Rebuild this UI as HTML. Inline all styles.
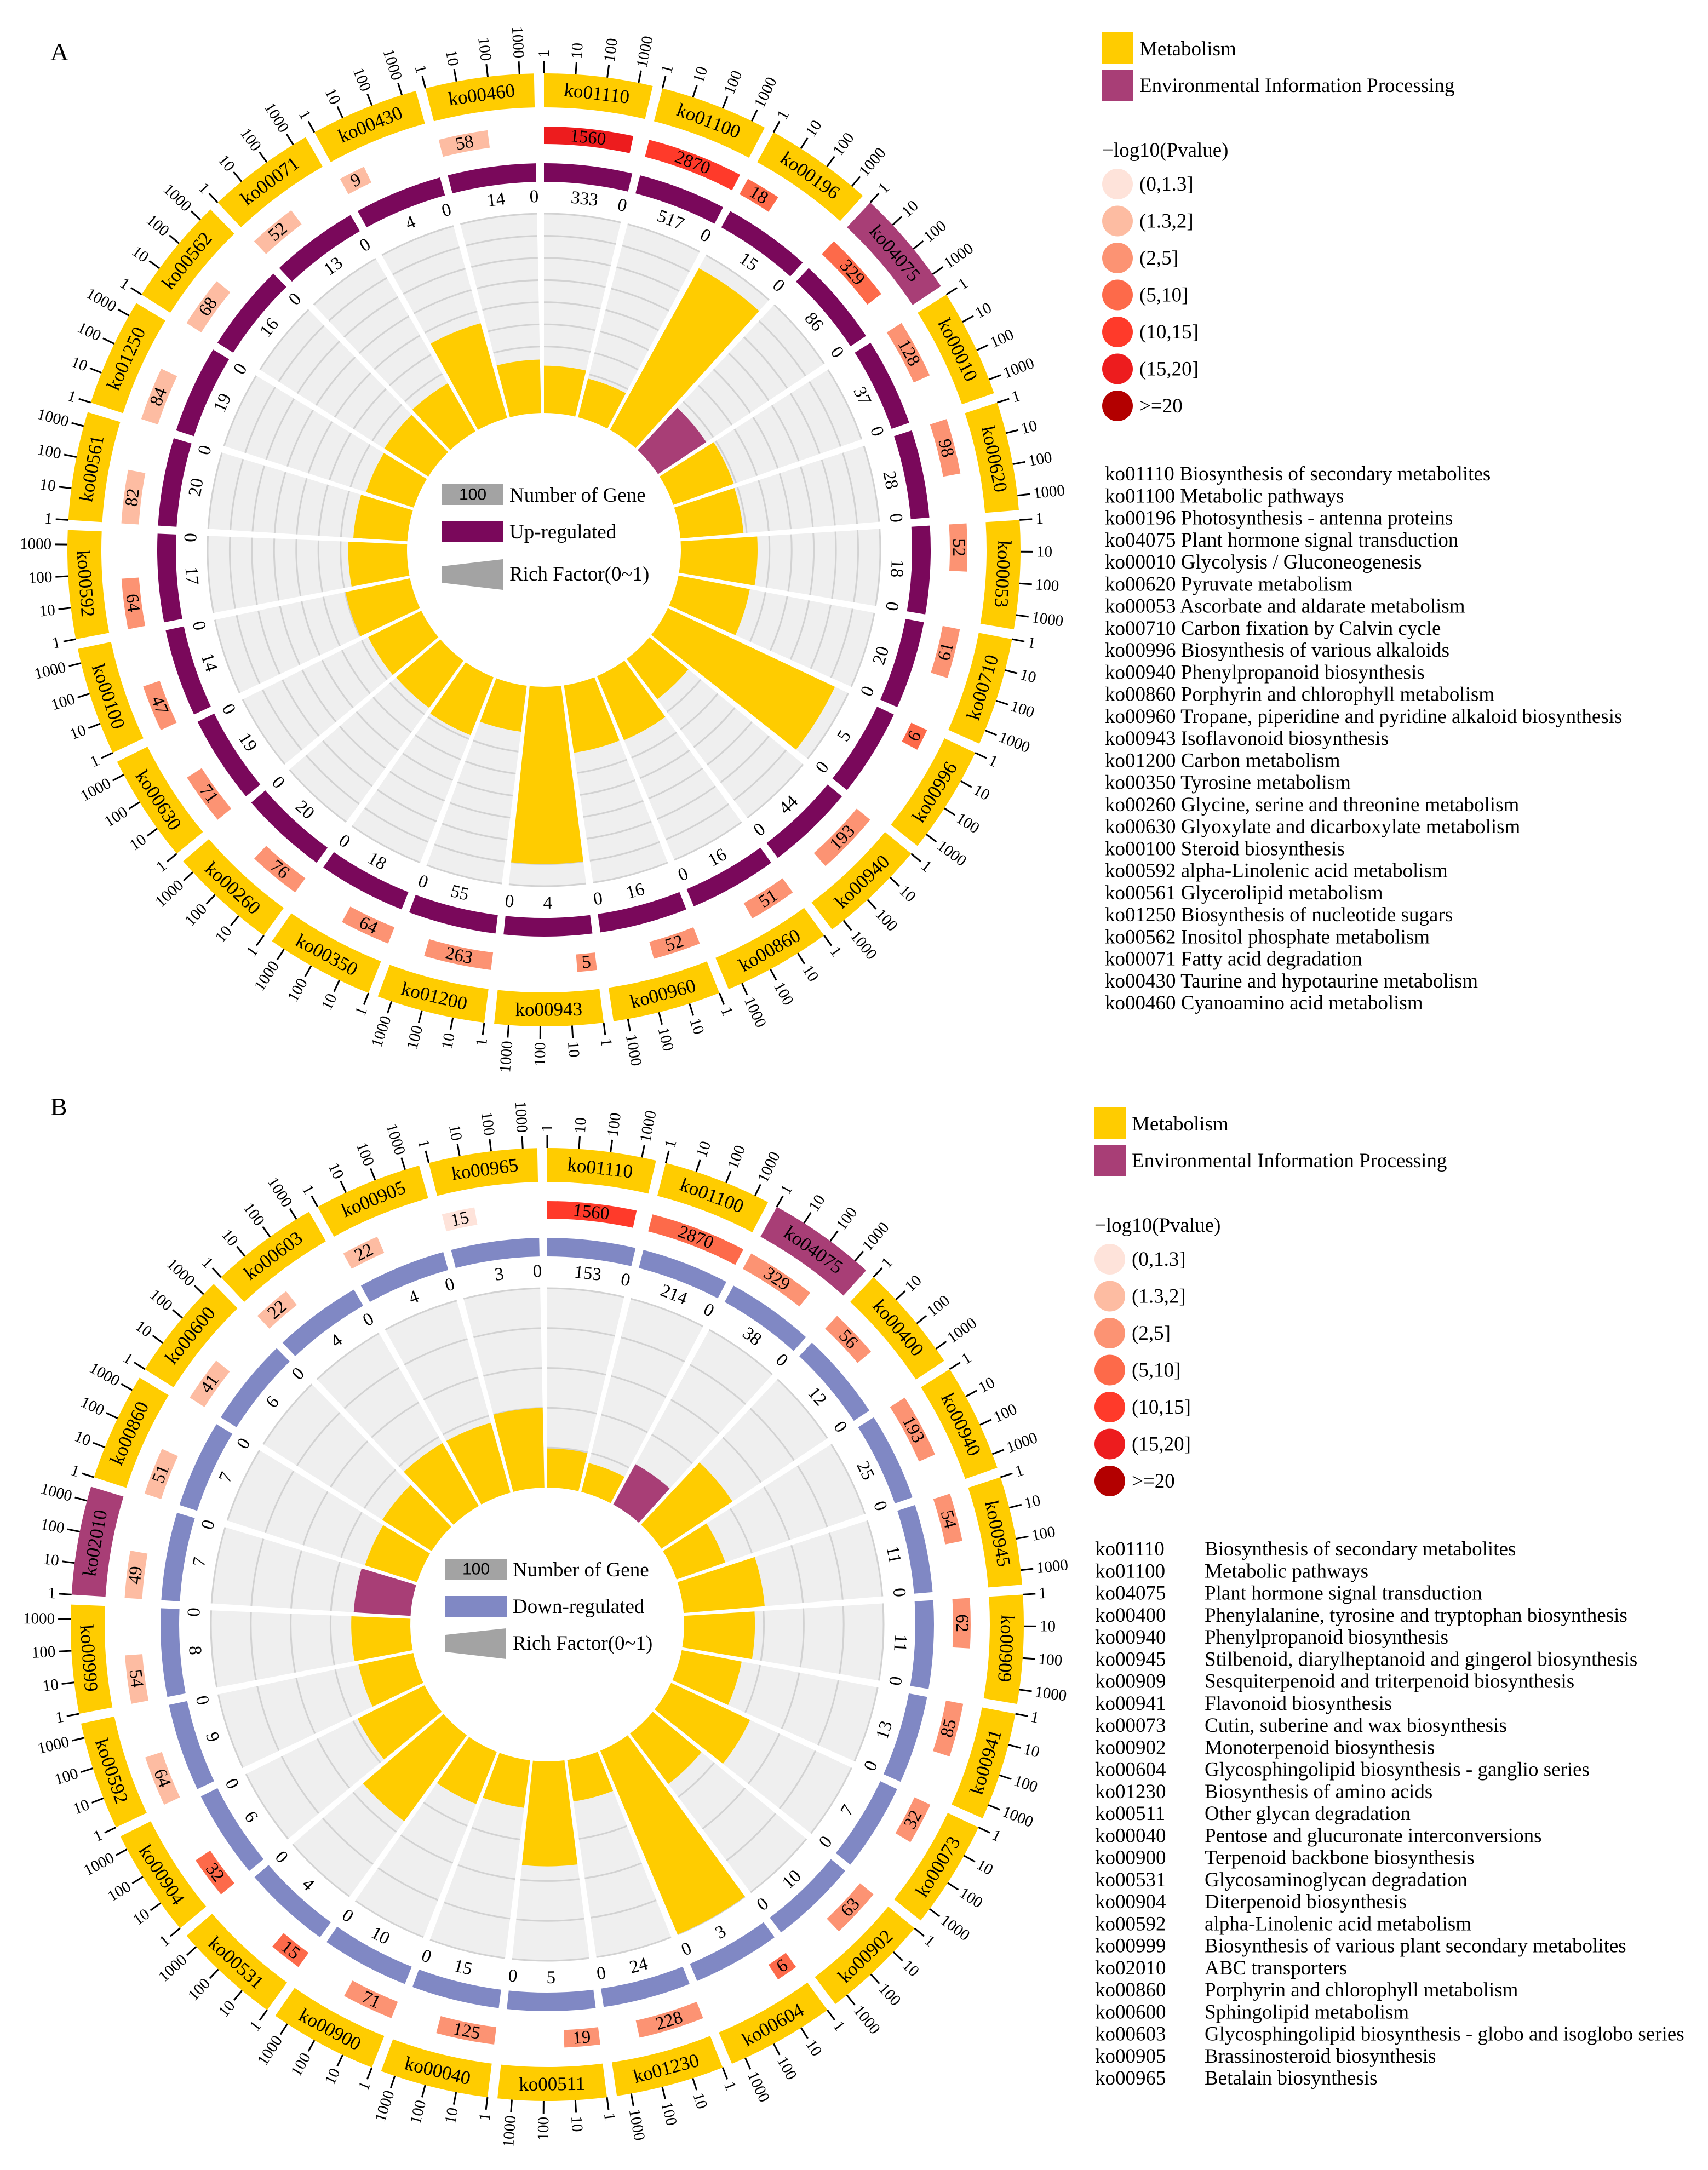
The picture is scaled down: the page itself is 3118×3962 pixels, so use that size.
<!DOCTYPE html>
<html><head><meta charset="utf-8">
<style>
html,body{margin:0;padding:0;background:#fff;}
svg{display:block;}
text{font-family:"Liberation Serif",serif;fill:#000;}
</style></head>
<body>
<svg id="root" width="3118" height="3962" viewBox="0 0 3118 3962" xmlns="http://www.w3.org/2000/svg">
<rect x="0" y="0" width="3118" height="3962" fill="#fff"/>
</svg>
<script>
// ---------- data: panel A ----------
const codesA = ["ko01110","ko01100","ko00196","ko04075","ko00010","ko00620","ko00053","ko00710","ko00996","ko00940","ko00860","ko00960","ko00943","ko01200","ko00350","ko00260","ko00630","ko00100","ko00592","ko00561","ko01250","ko00562","ko00071","ko00430","ko00460"];
const countsA = [1560,2870,18,329,128,98,52,61,6,193,51,52,5,263,64,76,71,47,64,82,84,68,52,9,58];
const upA = [333,517,15,86,37,28,18,20,5,44,16,16,4,55,18,20,19,14,17,20,19,16,13,4,14];
const pClassA = [5,4,3,3,2,2,2,2,3,2,2,2,2,2,2,2,2,2,2,1,1,1,1,1,1];
const catA = ["M","M","M","E","M","M","M","M","M","M","M","M","M","M","M","M","M","M","M","M","M","M","M","M","M"];
const namesA = ["Biosynthesis of secondary metabolites","Metabolic pathways","Photosynthesis - antenna proteins","Plant hormone signal transduction","Glycolysis / Gluconeogenesis","Pyruvate metabolism","Ascorbate and aldarate metabolism","Carbon fixation by Calvin cycle","Biosynthesis of various alkaloids","Phenylpropanoid biosynthesis","Porphyrin and chlorophyll metabolism","Tropane, piperidine and pyridine alkaloid biosynthesis","Isoflavonoid biosynthesis","Carbon metabolism","Tyrosine metabolism","Glycine, serine and threonine metabolism","Glyoxylate and dicarboxylate metabolism","Steroid biosynthesis","alpha-Linolenic acid metabolism","Glycerolipid metabolism","Biosynthesis of nucleotide sugars","Inositol phosphate metabolism","Fatty acid degradation","Taurine and hypotaurine metabolism","Cyanoamino acid metabolism"];
// ---------- data: panel B ----------
const codesB = ["ko01110","ko01100","ko04075","ko00400","ko00940","ko00945","ko00909","ko00941","ko00073","ko00902","ko00604","ko01230","ko00511","ko00040","ko00900","ko00531","ko00904","ko00592","ko00999","ko02010","ko00860","ko00600","ko00603","ko00905","ko00965"];
const countsB = [1560,2870,329,56,193,54,62,85,32,63,6,228,19,125,71,15,32,64,54,49,51,41,22,22,15];
const downB = [153,214,38,12,25,11,11,13,7,10,3,24,5,15,10,4,6,9,8,7,7,6,4,4,3];
const pClassB = [4,3,2,2,2,2,2,2,2,2,3,2,2,2,2,3,3,1,1,1,1,1,1,1,0];
const catB = ["M","M","E","M","M","M","M","M","M","M","M","M","M","M","M","M","M","M","M","E","M","M","M","M","M"];
const namesB = ["Biosynthesis of secondary metabolites","Metabolic pathways","Plant hormone signal transduction","Phenylalanine, tyrosine and tryptophan biosynthesis","Phenylpropanoid biosynthesis","Stilbenoid, diarylheptanoid and gingerol biosynthesis","Sesquiterpenoid and triterpenoid biosynthesis","Flavonoid biosynthesis","Cutin, suberine and wax biosynthesis","Monoterpenoid biosynthesis","Glycosphingolipid biosynthesis - ganglio series","Biosynthesis of amino acids","Other glycan degradation","Pentose and glucuronate interconversions","Terpenoid backbone biosynthesis","Glycosaminoglycan degradation","Diterpenoid biosynthesis","alpha-Linolenic acid metabolism","Biosynthesis of various plant secondary metabolites","ABC transporters","Porphyrin and chlorophyll metabolism","Sphingolipid metabolism","Glycosphingolipid biosynthesis - globo and isoglobo series","Brassinosteroid biosynthesis","Betalain biosynthesis"];
const tickValues = [1,10,100,1000];
const pLabels = ["(0,1.3]","(1.3,2]","(2,5]","(5,10]","(10,15]","(15,20]",">=20"];
const pColors = ["#FEE3DA","#FDBCA2","#FC9373","#FD6A4A","#FF3A2A","#ED1C1E","#B30000"];
const catColors = {M:"#FFCC00",E:"#A83E76"};

const NS = "http://www.w3.org/2000/svg";
const root = document.getElementById("root");
function mk(tag, attrs, parent){
  const e = document.createElementNS(NS, tag);
  for (const k in attrs) e.setAttribute(k, attrs[k]);
  (parent||root).appendChild(e);
  return e;
}
function pt(cx,cy,r,a){const t=a*Math.PI/180;return [cx+r*Math.sin(t), cy-r*Math.cos(t)];}
function sectorPath(cx,cy,r0,r1,a0,a1){
  const p1=pt(cx,cy,r1,a0),p2=pt(cx,cy,r1,a1),p3=pt(cx,cy,r0,a1),p4=pt(cx,cy,r0,a0);
  const lg=(a1-a0)>180?1:0;
  return `M${p1[0]},${p1[1]} A${r1},${r1} 0 ${lg} 1 ${p2[0]},${p2[1]} L${p3[0]},${p3[1]} A${r0},${r0} 0 ${lg} 0 ${p4[0]},${p4[1]} Z`;
}
function arcPath(cx,cy,r,a0,a1){
  const p1=pt(cx,cy,r,a0),p2=pt(cx,cy,r,a1);
  return `M${p1[0]},${p1[1]} A${r},${r} 0 0 1 ${p2[0]},${p2[1]}`;
}
function tanText(g,cx,cy,r,a,str,size){
  const p=pt(cx,cy,r,a);
  const flip = a>95 && a<270;
  const rot = flip ? a+180 : a;
  const t = mk("text",{transform:`translate(${p[0]},${p[1]}) rotate(${rot})`,"text-anchor":"middle","dominant-baseline":"central","font-size":size},g);
  t.textContent=str;
  return t;
}

function drawChart(cfg){
  const {cx,cy,codes,counts,reg,pcls,cat,rfMax,nGrid,regColor,key} = cfg;
  const n = codes.length, step = 360/n, w = step-1.2;
  const logMax = Math.log10(Math.max(...counts));
  const g = mk("g",{});
  
  
  const R0=250, R1=614;
  for(let i=0;i<n;i++){
    const a0=i*step, a1=a0+w, am=(a0+a1)/2;
    const sg = mk("g",{},g);
    
    
    const bg = mk("path",{d:sectorPath(cx,cy,R0,R1,a0,a1),fill:"#EFEFEF"},sg);
    
    
    for(let k=1;k<=nGrid;k++){
      const gl = mk("path",{d:arcPath(cx,cy,R0+k*(R1-R0)/nGrid,a0,a1),fill:"none",stroke:"#D2D2D2","stroke-width":3},sg);
      
      
    }
    const rf = reg[i]/counts[i];
    const bar = mk("path",{d:sectorPath(cx,cy,R0,R0+(R1-R0)*Math.min(rf/rfMax,1),a0,a1),fill:catColors[cat[i]]},sg);
    
    
    const rg = mk("path",{d:sectorPath(cx,cy,672,706,a0,a1),fill:regColor},sg);
    
    
    const cl = tanText(sg,cx,cy,645,am,String(reg[i]),33);
    
    
    const zl = tanText(sg,cx,cy,645,a1-0.4,"0",33);
    
    
    const pa1 = a0 + w*Math.log10(counts[i])/logMax;
    const pb = mk("path",{d:sectorPath(cx,cy,741,773,a0,pa1),fill:pColors[pcls[i]]},sg);
    
    
    const pl = tanText(sg,cx,cy,757,(a0+pa1)/2,String(counts[i]),33);
    
    
    const orr = mk("path",{d:sectorPath(cx,cy,808,870,a0,a1),fill:catColors[cat[i]]},sg);
    
    
    const ol = tanText(sg,cx,cy,839,am,codes[i],35);
    
    
    for(const tv of tickValues){
      const ta = a0 + w*Math.log10(tv)/logMax;
      const p1=pt(cx,cy,870,ta), p2=pt(cx,cy,893,ta);
      const tk = mk("line",{x1:p1[0],y1:p1[1],x2:p2[0],y2:p2[1],stroke:"#000","stroke-width":3},sg);
      
      
      const lp = pt(cx,cy,899,ta);
      const left = ta>=180;
      const tl = mk("text",{transform:`translate(${lp[0]},${lp[1]}) rotate(${left?ta+90:ta-90})`,"text-anchor":left?"end":"start","dominant-baseline":"central","font-size":29},sg);
      tl.textContent = String(tv);
      
      
    }
  }
  const lg = mk("g",{},g);
  
  
  mk("rect",{x:cx-186,y:cy-120,width:112,height:38,fill:"#A3A3A3"},lg);
  const hundred = mk("text",{x:cx-130,y:cy-101,"text-anchor":"middle","dominant-baseline":"central","font-size":30,style:"font-family:'Liberation Sans',sans-serif"},lg);
  hundred.textContent="100";
  mk("rect",{x:cx-186,y:cy-52,width:112,height:38,fill:regColor},lg);
  const t = cfg.trap;
  mk("polygon",{points:`${cx-186},${cy+t[0]} ${cx-75},${cy+t[1]} ${cx-75},${cy+t[2]} ${cx-186},${cy+t[3]}`,fill:"#A3A3A3"},lg);
  const l1=mk("text",{x:cx-63,y:cy-88,"font-size":37},lg); l1.textContent="Number of Gene";
  const l2=mk("text",{x:cx-63,y:cy-21,"font-size":37},lg); l2.textContent=cfg.regLabel;
  const l3=mk("text",{x:cx-63,y:cy+cfg.rfBase,"font-size":37},lg); l3.textContent="Rich Factor(0~1)";
}

function drawSideLegend(x,y0,key,codes,names,twoCol){
  const g = mk("g",{});
  
  
  const r1=mk("rect",{x:x,y:y0,width:57,height:57,fill:catColors.M},g);
  
  
  const t1=mk("text",{x:x+68,y:y0+42,"font-size":37},g); t1.textContent="Metabolism";
  const r2=mk("rect",{x:x,y:y0+68,width:57,height:57,fill:catColors.E},g);
  
  
  const t2=mk("text",{x:x+68,y:y0+109,"font-size":37},g); t2.textContent="Environmental Information Processing";
  const pt0=mk("text",{x:x,y:y0+227,"font-size":37},g); pt0.textContent="\u2212log10(Pvalue)";
  for(let i=0;i<pLabels.length;i++){
    const cy = y0+277+i*67.5;
    const c=mk("circle",{cx:x+28,cy:cy,r:28,fill:pColors[i]},g);
    
    
    const tx=mk("text",{x:x+68,y:cy+12,"font-size":37},g); tx.textContent=pLabels[i];
  }
  const lst = mk("g",{},g);
  
  
  for(let i=0;i<codes.length;i++){
    const by = y0+818+i*40.25;
    if(twoCol){
      const a=mk("text",{x:x+1,y:by,"font-size":37},lst); a.textContent=codes[i];
      const b=mk("text",{x:x+201,y:by,"font-size":37},lst); b.textContent=names[i];
    } else {
      const a=mk("text",{x:x+5,y:by,"font-size":37},lst); a.textContent=codes[i]+" "+names[i];
    }
  }
}

drawChart({key:"panel-a",cx:993,cy:1004,codes:codesA,counts:countsA,reg:upA,pcls:pClassA,cat:catA,rfMax:0.9,nGrid:9,regColor:"#7A085B",regLabel:"Up-regulated",trap:[30,17,73,60],rfBase:56});
drawChart({key:"panel-b",cx:999,cy:2966,codes:codesB,counts:countsB,reg:downB,pcls:pClassB,cat:catB,rfMax:0.5,nGrid:5,regColor:"#8088C4",regLabel:"Down-regulated",trap:[19,7,63,50],rfBase:46});
drawSideLegend(2012,59,"panel-a",codesA,namesA,false);
drawSideLegend(1998,2022,"panel-b",codesB,namesB,true);

const A = mk("text",{x:92,y:110,"font-size":46}); A.textContent="A";


const B = mk("text",{x:92,y:2036,"font-size":46}); B.textContent="B";


</script>
</body></html>
